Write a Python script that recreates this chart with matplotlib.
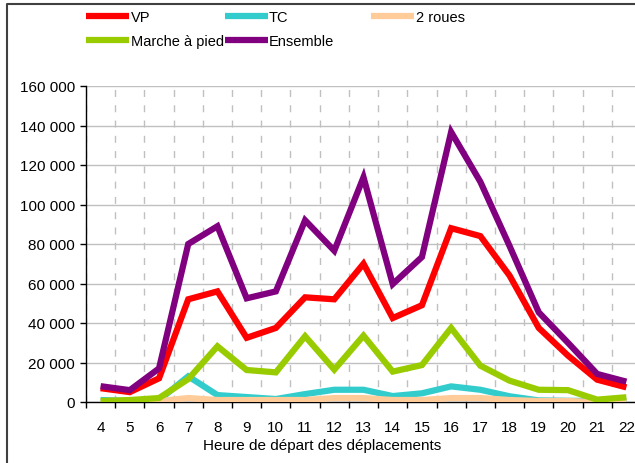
import numpy as np
import matplotlib
matplotlib.use("Agg")
import matplotlib.pyplot as plt
from matplotlib.lines import Line2D
from matplotlib.ticker import FuncFormatter

plt.rcParams['font.family'] = ['Liberation Sans', 'DejaVu Sans']

# heures de départ
heures = list(range(4, 23))

# nombre de déplacements par mode
vp = [7000, 5000, 12000, 52000, 56000, 32500, 37500, 53000, 52000, 70000,
      42500, 49000, 88000, 84000, 64000, 37500, 23500, 11300, 7400]
tc = [1000, 500, 1000, 13000, 3500, 2500, 1500, 4000, 6200, 6200,
      3000, 4400, 7900, 6200, 2900, 800, 600, 500, 500]
deux_roues = [0, 0, 500, 2000, 1000, 1000, 1000, 1000, 2000, 2000,
              1000, 1000, 2000, 2000, 1000, 500, 500, 0, 0]
marche = [500, 1000, 2000, 11600, 28200, 16200, 15000, 33300, 16400, 33600,
          15400, 18700, 37500, 18400, 10800, 6200, 6000, 1200, 2400]
ensemble = [8000, 6000, 17000, 80000, 89000, 52500, 56000, 92000, 76600, 113800,
            59700, 73400, 136700, 111500, 79000, 45400, 30000, 14200, 10300]

series = [
    ("VP", vp, "#FF0000"),
    ("TC", tc, "#33CCCC"),
    ("2 roues", deux_roues, "#FFCC99"),
    ("Marche à pied", marche, "#99CC00"),
    ("Ensemble", ensemble, "#800080"),
]

fig = plt.figure(figsize=(6.35, 4.64), dpi=100)
ax = fig.add_axes([86 / 635, 1 - 403 / 464, 555 / 635, 316 / 464])

x = np.arange(len(heures))
handles = {}
for nom, vals, couleur in series:
    (ln,) = ax.plot(x, vals, color=couleur, lw=4.5, solid_joinstyle='miter',
                    solid_capstyle='butt', label=nom, zorder=3)
    handles[nom] = ln

ax.set_xlim(-0.5, len(heures) - 0.5)
ax.set_ylim(0, 160000)
ax.set_yticks(np.arange(0, 160001, 20000))
ax.yaxis.set_major_formatter(FuncFormatter(lambda v, p: f"{int(v):,}".replace(",", " ")))

ax.set_xticks(x)
ax.set_xticklabels([str(h) for h in heures])
ax.set_xticks(np.arange(-0.5, len(heures)), minor=True)
ax.tick_params(axis='x', which='major', length=0, pad=13, labelsize=11)
ax.tick_params(axis='x', which='minor', length=4, direction='out', width=1)
ax.tick_params(axis='y', length=4, direction='out', width=1, pad=4, labelsize=11)

ax.grid(axis='y', color='#C0C0C0', lw=1, zorder=0)
ax.grid(axis='x', which='minor', color='#C0C0C0', lw=1, ls=(0, (5, 6)), zorder=0)
ax.set_axisbelow(True)

for s in ['top', 'right']:
    ax.spines[s].set_visible(False)
ax.spines['left'].set_linewidth(1)
ax.spines['bottom'].set_linewidth(1)

ax.set_xlabel("Heure de départ des déplacements", fontsize=11)
ax.xaxis.set_label_coords((322 - 86) / 555, -(446 - 403) / 316)
ax.xaxis.label.set_va('center')

# légende : deux blocs
leg1 = fig.legend([handles["VP"], handles["Marche à pied"], handles["TC"], handles["Ensemble"]],
                  ["VP", "Marche à pied", "TC", "Ensemble"],
                  ncol=2, loc='upper left', bbox_to_anchor=(76 / 635, 1 - 1 / 464),
                  frameon=False, fontsize=10.5, handlelength=2.95, handletextpad=0.1,
                  columnspacing=0.05, labelspacing=0.65, borderpad=0.2)
leg2 = fig.legend([handles["2 roues"]], ["2 roues"],
                  loc='upper left', bbox_to_anchor=(361 / 635, 1 - 1 / 464),
                  frameon=False, fontsize=10.5, handlelength=2.95, handletextpad=0.1,
                  borderpad=0.2)

# cadre extérieur (haut et gauche)
fig.add_artist(Line2D([7 / 635, 7 / 635, 1.0], [0.0, 1 - 5 / 464, 1 - 5 / 464],
                      transform=fig.transFigure, color='#404040', lw=1.5))

fig.savefig("out.png", dpi=100)
